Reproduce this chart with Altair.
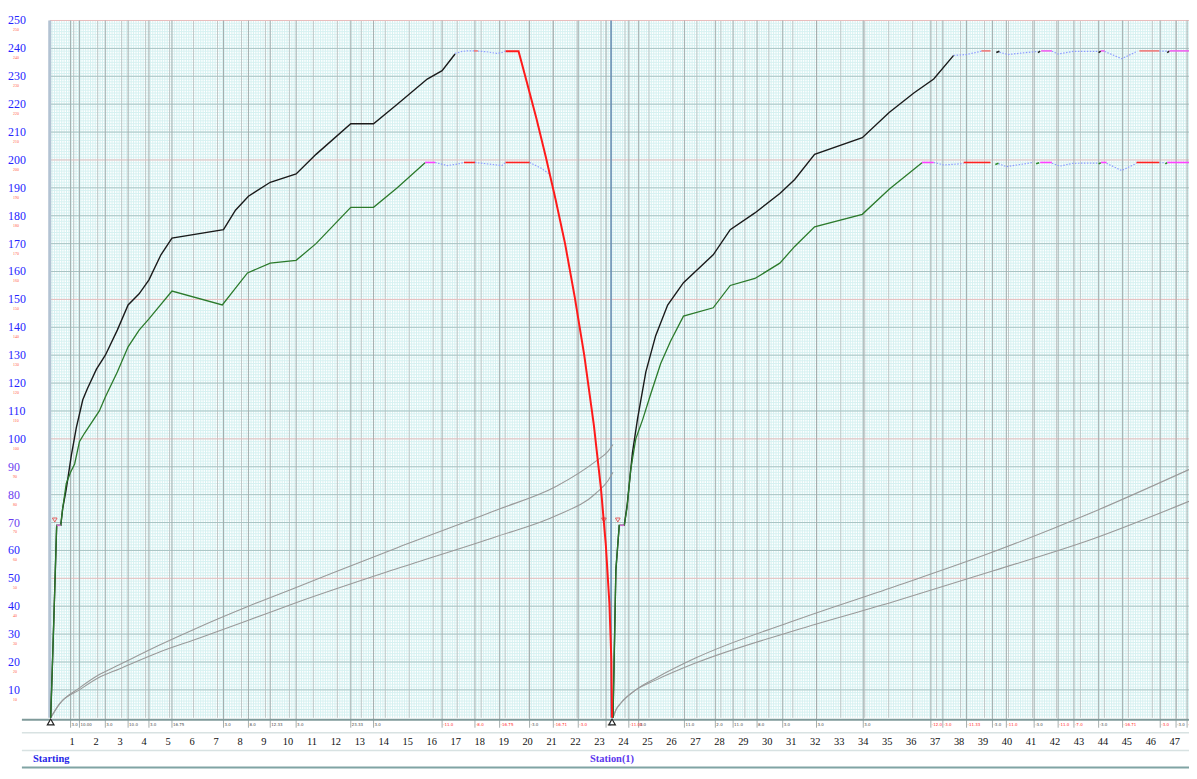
import altair as alt
import pandas as pd
import numpy as np

# ---------------- data ----------------
speed_ticks = list(range(10, 251, 10))
km_labels = list(range(1, 48))

marker_km = [0.87, 1.24, 2.32, 3.27, 4.14, 5.10, 7.25, 8.29, 9.20, 10.28, 12.56, 13.51,
             16.37, 17.74, 18.77, 20.02, 21.01, 22.05, 23.21, 24.16, 24.57, 26.48, 27.77,
             28.51, 29.51, 30.58, 31.99, 33.94, 36.76, 37.26, 38.25, 39.33, 39.91, 41.07,
             42.07, 42.73, 43.76, 44.76, 46.33, 46.99, 47.45]
marker_text = ["3.0", "10.00", "3.0", "10.0", "3.0", "16.75", "3.0", "8.0", "12.33", "3.0",
               "23.33", "3.0", "-11.0", "-8.0", "-16.75", "-3.0", "-16.71", "-3.0", "-3",
               "-11.00", "3.0", "11.0", "2.0", "11.0", "8.0", "3.0", "3.0", "3.0", "-12.0",
               "-3.0", "-11.33", "-3.0", "-11.0", "-3.0", "-11.0", "-7.0", "-3.0", "-16.71",
               "-3.0", "-3.0", "-3"]
marker_red = [0, 0, 0, 0, 0, 0, 0, 0, 0, 0, 0, 0, 1, 1, 1, 0, 1, 1, 0, 1, 0, 0, 0, 0, 0, 0,
              0, 0, 1, 1, 1, 0, 1, 0, 1, 1, 0, 1, 1, 0, 1]

station_names = ["Starting", "Station(1)"]
station_km = [0.06, 23.46]
station_line_km = [23.42]

# run 1 speed curves
b1_km = [0.04, 0.12, 0.21, 0.29, 0.46, 0.54, 0.69, 0.90, 1.11, 1.38, 1.57, 1.95, 2.32, 2.82,
         3.27, 3.73, 4.14, 4.64, 5.10, 7.25, 7.75, 8.29, 9.20, 10.28, 11.11, 12.56, 13.51,
         14.50, 15.75, 16.37, 16.91]
b1_v = [0, 21, 46, 69, 69, 75, 82, 94, 104, 114, 118, 125, 130, 139, 148, 152, 157, 166, 172,
        175, 182, 187, 192, 195, 202, 213, 213, 220, 229, 232, 238]
g1_km = [0.04, 0.12, 0.21, 0.29, 0.46, 0.54, 0.69, 0.87, 1.04, 1.24, 1.45, 2.07, 2.32, 2.82,
         3.27, 3.73, 4.14, 5.10, 7.20, 8.25, 9.20, 10.28, 11.11, 12.56, 13.51, 14.50, 15.66]
g1_v = [0, 21, 46, 69, 69, 75, 84, 88, 91, 99, 102, 110, 115, 124, 133, 139, 143, 153, 148,
        159.5, 163, 164, 170, 183, 183, 190, 199]
# run 2 speed curves
b2_km = [23.50, 23.62, 23.76, 23.97, 24.10, 24.31, 24.52, 24.87, 25.28, 25.78, 26.44, 27.68,
         28.39, 29.42, 30.46, 31.08, 31.91, 33.90, 35.02, 36.05, 36.88, 37.71]
b2_v = [0, 53, 69, 69, 77, 95, 107, 124, 137, 148, 156, 166, 175, 181, 188, 193, 202, 208,
        217, 224, 229, 237.5]
g2_km = [23.50, 23.62, 23.76, 23.97, 24.08, 24.24, 24.45, 24.74, 25.07, 25.49, 25.90, 26.44,
         27.68, 28.39, 29.42, 30.46, 31.08, 31.91, 33.90, 35.02, 36.39]
g2_v = [0, 53, 69, 69, 75, 89, 100, 107, 116, 127, 135, 144, 147, 155, 157.5, 163, 169, 176,
        180.5, 189.5, 199]
# braking curve
brake_km = [19.02, 19.56, 19.90, 20.30, 20.70, 21.10, 21.50, 21.90, 22.30, 22.70, 23.00, 23.20,
            23.35, 23.43, 23.46]
brake_v = [239, 239, 228, 215, 201, 186, 170, 151, 130, 105, 82, 62, 41, 21, 0]

# time curves (grey)
t1_km = [0.04, 0.41, 1.24, 2.07, 2.90, 4.56, 6.22, 8.29, 10.36, 14.50, 18.65, 21.14, 22.79,
         23.29, 23.50]
t1_up = [0, 5, 10.7, 15.5, 19, 26, 32.5, 40, 47, 61, 74.5, 83, 92, 95.5, 98]
t1_lo = [0, 5, 10, 14.5, 17.5, 23.5, 28.5, 35, 41.5, 53.5, 65, 72.5, 80.5, 85, 88]
t2_km = [23.50, 23.62, 23.83, 24.45, 25.28, 26.94, 31.08, 35.23, 39.37, 43.51, 47.53]
t2_up = [0, 2.8, 5.3, 10, 14.2, 21.4, 34.9, 47, 59.5, 73.7, 89]
t2_lo = [0, 2.8, 5.3, 10, 13.5, 19.6, 31.3, 41.7, 52.7, 64.1, 77.6]

# short coloured limit segments
seg_id = [1, 1, 2, 2, 3, 3, 4, 4, 5, 5, 6, 6, 7, 7, 8, 8, 9, 9, 10, 10, 11, 11, 12, 12, 13, 13,
          14, 14, 15, 15, 16, 16, 17, 17, 18, 18, 19, 19, 20, 20, 21, 21, 22, 22, 23, 23, 24, 24,
          25, 25]
seg_km = [0.29, 0.46, 17.70, 17.86, 15.66, 16.08, 17.28, 17.74, 19.02, 20.02, 23.79, 23.97,
          36.39, 36.88, 38.13, 39.25, 39.45, 39.58, 41.15, 41.28, 41.32, 41.81, 43.76, 43.85,
          43.85, 44.09, 45.34, 46.29, 46.54, 46.62, 46.62, 47.53, 38.87, 39.25, 39.49, 39.62,
          41.23, 41.32, 41.36, 41.81, 43.76, 43.85, 43.85, 44.01, 45.46, 46.29, 46.62, 46.71,
          46.71, 47.53]
seg_v = [69, 69, 239.1, 239.1, 199.1, 199.1, 199.1, 199.1, 199.1, 199.1, 69, 69, 199.1, 199.1,
         199.1, 199.1, 198.4, 198.8, 198.6, 199, 199.1, 199.1, 198.6, 199, 199.1, 199.1, 199.1,
         199.1, 198.6, 199, 199.1, 199.1, 239.1, 239.1, 238.5, 239, 238.5, 239, 239.1, 239.1,
         238.5, 239, 239.1, 239.1, 239.1, 239.1, 238.5, 239, 239.1, 239.1]
seg_color = ["#d070d0", "#f07878", "#ff40ff", "#ff2020", "#ff2020", "#d070d0", "#ff40ff",
             "#ff2020", "#2a8a2a", "#2a8a2a", "#ff40ff", "#2a8a2a", "#ff40ff", "#ff2020",
             "#2a8a2a", "#ff40ff", "#f07878", "#202020", "#202020", "#f060f0", "#202020",
             "#f060f0", "#f07878", "#202020", "#f060f0"]

# dotted transition segments
dot_id = [1, 1, 1, 1, 2, 2, 2, 2, 2, 3, 3, 3, 3, 4, 4, 4, 4, 5, 5, 5, 6, 6, 6, 7, 7, 7, 7,
          8, 8, 8, 8, 9, 9, 9, 10, 10, 11, 11, 11, 12, 12, 12, 13, 13, 13, 13, 14, 14, 14, 15, 15]
dot_km = [16.91, 17.20, 17.41, 17.70, 17.86, 18.23, 18.65, 18.90, 19.02, 16.08, 16.58, 17.00,
          17.28, 17.74, 18.44, 18.86, 19.02, 20.02, 20.51, 20.84, 37.71, 38.25, 38.87, 39.62,
          39.99, 40.61, 41.23, 41.81, 42.06, 42.69, 43.76, 44.01, 44.72, 45.38, 46.29, 46.62,
          36.88, 37.30, 38.13, 39.58, 39.91, 41.03, 41.81, 42.15, 42.69, 43.76, 44.09, 44.72,
          45.34, 46.29, 46.54]
dot_v = [238.2, 238.9, 239.1, 239.1, 239, 238.8, 238.2, 238.6, 239.1, 199.1, 198, 198.5, 199.1,
         199.1, 198.4, 198, 199.1, 199.1, 197, 195, 237.5, 237.8, 239, 238.6, 237.8, 238.4, 238.9,
         239, 238, 238.9, 238.9, 238.9, 236.3, 239, 239, 239, 199.1, 198.2, 198.7, 198.7, 197.6,
         199.1, 198.8, 197.8, 198.8, 198.9, 198.8, 196.2, 198.8, 199, 199]

warn_km = [0.21, 23.12, 23.70]
warn_v = [70.9, 70.9, 70.9]
stop_km = [0.04, 23.46]
stop_v = [-1.5, -1.5]

# ---------------- chart ----------------
W, H = 1147, 702
XMAX = 47.53
xs = alt.Scale(domain=[0, XMAX], nice=False, zero=False)
ys = alt.Scale(domain=[0, 250], nice=False, zero=False)
SERIF = "Liberation Serif"


def X(f="km"):
    return alt.X(f"{f}:Q", scale=xs, axis=None)


def Y(f="v"):
    return alt.Y(f"{f}:Q", scale=ys, axis=None)


one = pd.DataFrame({"a": [0]})

minor_x = pd.DataFrame({"km": np.round(np.arange(0.1, XMAX, 0.1), 2)})
minor_y = pd.DataFrame({"v": np.arange(1, 250, 1)})
major_y = pd.DataFrame({"v": [t for t in speed_ticks if t % 50 != 0]})
pink_y = pd.DataFrame({"v": [t for t in speed_ticks if t % 50 == 0]})
km_df = pd.DataFrame({"km": km_labels, "t": [str(k) for k in km_labels]})
mk_df = pd.DataFrame({"km": marker_km, "t": marker_text,
                      "c": ["#ff3030" if r else "#505050" for r in marker_red]})

layers = []
layers.append(alt.Chart(minor_x).mark_rule(color="#d6f1f1", strokeWidth=1).encode(x=X()))
layers.append(alt.Chart(minor_y).mark_rule(color="#d6f1f1", strokeWidth=1).encode(y=Y()))
layers.append(alt.Chart(km_df).mark_rule(color="#c0c8c8", strokeWidth=1).encode(x=X()))
layers.append(alt.Chart(major_y).mark_rule(color="#a8c4c4", strokeWidth=1).encode(y=Y()))
layers.append(alt.Chart(pink_y).mark_rule(color="#e8bcbc", strokeWidth=1).encode(y=Y()))
layers.append(alt.Chart(mk_df).mark_rule(color="#a4adad", strokeWidth=1).encode(
    x=X(), y=alt.value(0), y2=alt.value(H + 10)))
layers.append(alt.Chart(pd.DataFrame({"km": station_line_km})).mark_rule(
    color="#6b8fb3", strokeWidth=1.6).encode(x=X(), y=alt.value(0), y2=alt.value(H)))
layers.append(alt.Chart(one).mark_rule(color="#b3c3d3", strokeWidth=3).encode(
    x=alt.value(0), y=alt.value(0), y2=alt.value(H)))

# frame lines below plot
for yy, col, sw in [(H + 2, "#7f9a9a", 2), (H + 15, "#d8e2e2", 1.5), (H + 33, "#d8e2e2", 1.5),
                    (H + 50, "#80a4a4", 2)]:
    layers.append(alt.Chart(one).mark_rule(color=col, strokeWidth=sw).encode(
        x=alt.value(-28), x2=alt.value(W), y=alt.value(yy)))

# time curves
tdf = pd.concat([
    pd.DataFrame({"km": t1_km, "v": t1_up, "s": "a"}),
    pd.DataFrame({"km": t1_km, "v": t1_lo, "s": "b"}),
    pd.DataFrame({"km": t2_km, "v": t2_up, "s": "c"}),
    pd.DataFrame({"km": t2_km, "v": t2_lo, "s": "d"}),
])
layers.append(alt.Chart(tdf).mark_line(color="#9a9a9a", strokeWidth=1.1, interpolate="monotone")
              .encode(x=X(), y=Y(), detail="s:N"))

# speed curves
bdf = pd.concat([pd.DataFrame({"km": b1_km, "v": b1_v, "s": "1"}),
                 pd.DataFrame({"km": b2_km, "v": b2_v, "s": "2"})])
gdf = pd.concat([pd.DataFrame({"km": g1_km, "v": g1_v, "s": "1"}),
                 pd.DataFrame({"km": g2_km, "v": g2_v, "s": "2"})])
layers.append(alt.Chart(bdf).mark_line(color="#1a1a1a", strokeWidth=1.4)
              .encode(x=X(), y=Y(), detail="s:N"))
layers.append(alt.Chart(gdf).mark_line(color="#2b7a2b", strokeWidth=1.3)
              .encode(x=X(), y=Y(), detail="s:N"))

# dotted and coloured segments
ddf = pd.DataFrame({"km": dot_km, "v": dot_v, "s": dot_id})
layers.append(alt.Chart(ddf).mark_line(color="#8d9cff", strokeWidth=1.2, strokeDash=[1.5, 1.5])
              .encode(x=X(), y=Y(), detail="s:N"))
sdf = pd.DataFrame({"km": seg_km, "v": seg_v, "s": seg_id})
sdf["c"] = [seg_color[i - 1] for i in seg_id]
layers.append(alt.Chart(sdf).mark_line(strokeWidth=1.6)
              .encode(x=X(), y=Y(), detail="s:N", color=alt.Color("c:N", scale=None)))

# braking curve
layers.append(alt.Chart(pd.DataFrame({"km": brake_km, "v": brake_v})).mark_line(
    color="#ff1a1a", strokeWidth=2).encode(x=X(), y=Y()))

# markers
layers.append(alt.Chart(pd.DataFrame({"km": warn_km, "v": warn_v})).mark_point(
    shape="triangle-down", size=22, color="#e02020", filled=False, strokeWidth=1).encode(x=X(), y=Y()))
layers.append(alt.Chart(pd.DataFrame({"km": stop_km, "v": stop_v})).mark_point(
    shape="triangle-up", size=45, stroke="#202020", fill="white", fillOpacity=1, filled=True,
    strokeWidth=1.2).encode(x=X(), y=Y()))

# y labels
ydf = pd.DataFrame({"v": speed_ticks, "t": [str(t) for t in speed_ticks],
                    "c": ["#6a3cf0" if t in (70, 80, 90) else "#2424ff" for t in speed_ticks]})
layers.append(alt.Chart(ydf).mark_text(align="left", baseline="middle", font=SERIF, fontSize=12)
              .encode(x=alt.value(-42), y=Y(), text="t:N", color=alt.Color("c:N", scale=None)))
layers.append(alt.Chart(ydf).mark_text(align="left", baseline="middle", font=SERIF, fontSize=4,
                                       color="#ff5a3c", dy=10)
              .encode(x=alt.value(-37), y=Y(), text="t:N"))

# x labels
layers.append(alt.Chart(km_df).mark_text(align="center", baseline="middle", font=SERIF,
                                         fontSize=10.5, color="#111111", dx=-1.5)
              .encode(x=X(), y=alt.value(H + 24), text="t:N"))
# gradient marker labels
layers.append(alt.Chart(mk_df).mark_text(align="left", baseline="middle", font="DejaVu Sans",
                                         fontSize=4, dx=1)
              .encode(x=X(), y=alt.value(H + 7), text="t:N", color=alt.Color("c:N", scale=None)))
# station names
sn = pd.DataFrame({"km": station_km, "t": station_names, "c": ["#2626e8", "#5a36ee"]})
layers.append(alt.Chart(sn).mark_text(align="center", baseline="middle", font=SERIF, fontSize=10.5,
                                      fontWeight="bold")
              .encode(x=X(), y=alt.value(H + 42), text="t:N", color=alt.Color("c:N", scale=None)))

chart = alt.layer(*layers).properties(
    width=W, height=H,
    padding={"left": 42, "top": 10, "right": 0, "bottom": 51},
    autosize=alt.AutoSizeParams(type="none"),
).configure_view(stroke=None)

chart.save("out.html", embed_options={"renderer": "svg", "actions": False})
